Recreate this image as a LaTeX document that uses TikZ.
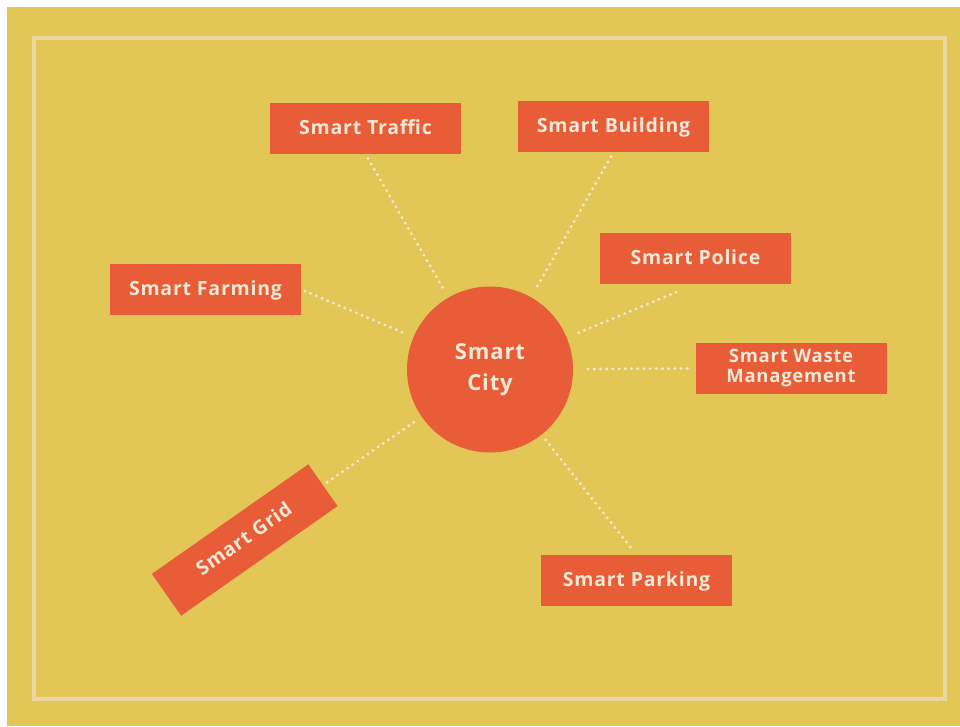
\documentclass[tikz,border=0pt]{standalone}
\usepackage{fontspec}
\newfontfamily\signfont{Open Sans}[LetterSpace=4]
\definecolor{mustard}{HTML}{E2C656}
\definecolor{brick}{HTML}{E85D37}
\definecolor{cream}{HTML}{F2E8D5}
\definecolor{framecol}{HTML}{E9D8A2}
\begin{document}
\begin{tikzpicture}[x=1pt, y=-1pt,
    signbox/.style={rectangle, fill=brick, text=cream, inner sep=0pt, minimum width=191pt, minimum height=51pt, font=\signfont\bfseries\fontsize{19.5}{20}\selectfont},
    sign/.style={signbox, text height=11pt, text depth=0pt},
    hub/.style={circle, fill=brick, text=cream, inner sep=0pt, minimum size=166pt, align=center, font=\signfont\bfseries\fontsize{22}{31}\selectfont},
    dots/.style={draw=cream, line width=3.2pt, line cap=round, dash pattern=on 0pt off 6.2pt}]
                \useasboundingbox (0,0) rectangle (960,726);
                \fill[white] (0,0) rectangle (960,726);
                \fill[mustard] (7,7) rectangle (960,726);
                \draw[framecol, line width=4pt] (33.5,38) rectangle (944.5,698.5);

                \node [hub] (city) at (490,369.5) {Smart\\City};

                \node [sign] (traffic) at (365.5,128.5) {Smart Traffic};
                \node [sign] (building) at (613.5,126.5) {Smart Building};
                \node [sign] (police) at (695.5,258.5) {Smart Police};
                \node [sign] (farming) at (205.5,289.5) {Smart Farming};
                \node [signbox, align=center, font=\signfont\bfseries\fontsize{18.5}{20}\selectfont] (waste) at (791,368.5) {Smart Waste\\Management};
                \node [sign] (parking) at (636.5,580.5) {Smart Parking};
                \node [sign, rotate=35] (grid) at (244.7,540) {Smart Grid};

                \draw[dots, shorten <=5pt, shorten >=6pt] (traffic.south) -- (city);
                \draw[dots, shorten <=5pt, shorten >=7pt] (building.south) -- (city);
                \draw[dots, shorten <=21pt, shorten >=8pt] (police.south) -- (city);
                \draw[dots, shorten <=4pt, shorten >=8pt] (farming.east) -- (city);
                \draw[dots, shorten <=8pt, shorten >=9pt] (waste.west) -- (city);
                \draw[dots, shorten <=10pt, shorten >=3pt] (parking.north) -- (city);
                \draw[dots, shorten <=5pt, shorten >=4pt] (grid.east) -- (city);
            \end{tikzpicture}
\end{document}
